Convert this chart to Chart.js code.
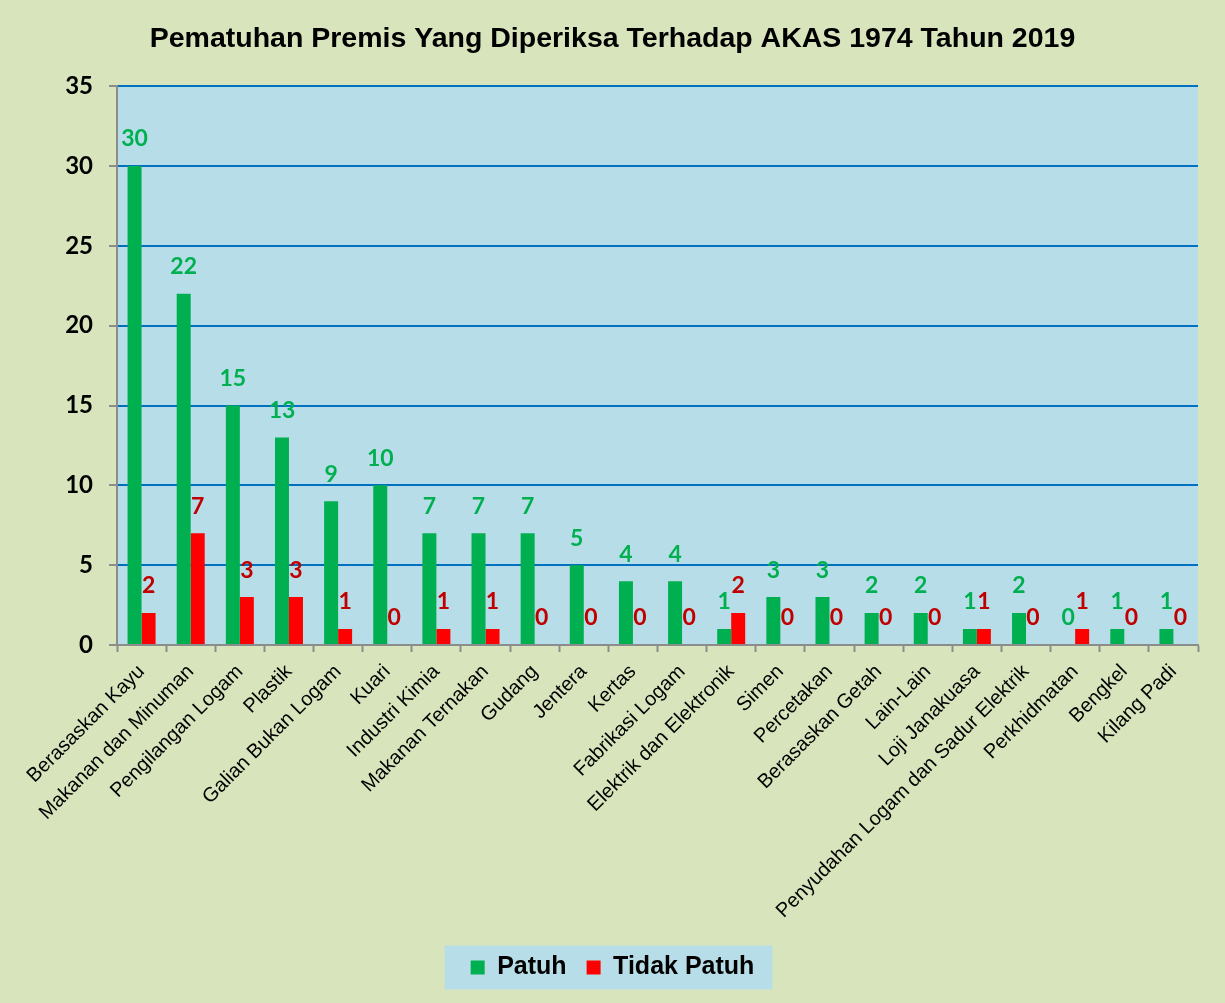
<!DOCTYPE html>
<html>
<head>
<meta charset="utf-8">
<script src="https://cdn.jsdelivr.net/npm/chart.js@4/dist/chart.umd.min.js"></script>
<style>
  html, body { margin: 0; padding: 0; background: #d8e4bc; }
  #wrap { width: 1225px; height: 1003px; }
</style>
</head>
<body>
<div id="wrap"><canvas id="barChart" width="1225" height="1003"></canvas></div>
<script>
// data
let kategori = ["Berasaskan Kayu", "Makanan dan Minuman", "Pengilangan Logam", "Plastik",
  "Galian Bukan Logam", "Kuari", "Industri Kimia", "Makanan Ternakan", "Gudang", "Jentera",
  "Kertas", "Fabrikasi Logam", "Elektrik dan Elektronik", "Simen", "Percetakan",
  "Berasaskan Getah", "Lain-Lain", "Loji Janakuasa", "Penyudahan Logam dan Sadur Elektrik",
  "Perkhidmatan", "Bengkel", "Kilang Padi"]
let patuh      = [30, 22, 15, 13, 9, 10, 7, 7, 7, 5, 4, 4, 1, 3, 3, 2, 2, 1, 2, 0, 1, 1]
let tidakPatuh = [2, 7, 3, 3, 1, 0, 1, 1, 0, 0, 0, 0, 2, 0, 0, 0, 0, 1, 0, 1, 0, 0]
let yTicks = [0, 5, 10, 15, 20, 25, 30, 35]

let labelColors = ['#00b050', '#c00000']

// plot area background + legend box
const bgPlugin = {
  id: 'bgPlugin',
  beforeDraw(chart) {
    const c = chart.ctx, a = chart.chartArea
    c.save()
    c.fillStyle = '#d8e4bc'
    c.fillRect(0, 0, chart.width, chart.height)
    c.fillStyle = '#b7dee8'
    c.fillRect(a.left, a.top, a.right - a.left, a.bottom - a.top)
    const lg = chart.legend
    if (lg && lg.legendHitBoxes && lg.legendHitBoxes.length) {
      const hb = lg.legendHitBoxes
      let l = Math.min(...hb.map(h => h.left)) - 26
      let r = Math.max(...hb.map(h => h.left + h.width)) + 18
      let mid = hb[0].top + hb[0].height / 2
      c.fillRect(l, mid - 22, r - l, 44)
    }
    c.restore()
  }
}

// value labels above bars
const valuePlugin = {
  id: 'valuePlugin',
  afterDatasetsDraw(chart) {
    const c = chart.ctx
    c.save()
    c.font = 'bold 23px Lato, "Open Sans", sans-serif'
    c.textAlign = 'center'
    c.textBaseline = 'middle'
    chart.data.datasets.forEach((ds, i) => {
      const meta = chart.getDatasetMeta(i)
      c.fillStyle = labelColors[i]
      meta.data.forEach((bar, j) => {
        c.fillText(ds.data[j], bar.x, bar.y - 27)
      })
    })
    c.restore()
  }
}

let ctx = document.getElementById('barChart').getContext('2d')
let myChart = new Chart(ctx, {
  type: 'bar',
  data: {
    labels: kategori,
    datasets: [{
      label: 'Patuh',
      data: patuh,
      yAxisID: 'y',
      backgroundColor: '#00b050',
      borderWidth: 0
    },
    {
      label: 'Tidak Patuh',
      data: tidakPatuh,
      yAxisID: 'y',
      backgroundColor: '#ff0000',
      borderWidth: 0
    }]
  },
  options: {
    responsive: false,
    animation: false,
    categoryPercentage: 0.57,
    barPercentage: 1.0,
    layout: { padding: { left: 0, right: 0, top: 0, bottom: 13 } },
    plugins: {
      title: {
        display: true,
        text: 'Pematuhan Premis Yang Diperiksa Terhadap AKAS 1974 Tahun 2019',
        color: '#000',
        font: { family: '"Liberation Sans", Arial, sans-serif', size: 28.5, weight: 'bold' },
        padding: { top: 22, bottom: 30 }
      },
      legend: {
        position: 'bottom',
        labels: {
          color: '#000',
          boxWidth: 14,
          boxHeight: 14,
          padding: 20,
          font: { family: '"Liberation Sans", Arial, sans-serif', size: 25, weight: 'bold' },
          generateLabels(chart) {
            return chart.data.datasets.map((ds, i) => ({
              text: ds.label,
              fillStyle: ds.backgroundColor,
              strokeStyle: ds.backgroundColor,
              lineWidth: 0,
              datasetIndex: i
            }))
          }
        }
      },
      tooltip: { enabled: false }
    },
    scales: {
      x: {
        grid: {
          offset: true,
          drawOnChartArea: false,
          drawTicks: true,
          tickLength: 7,
          tickColor: '#8c8c8c',
          tickWidth: 2
        },
        border: { color: '#8c8c8c', width: 2 },
        ticks: {
          color: '#000',
          minRotation: 45,
          maxRotation: 45,
          autoSkip: false,
          padding: 8,
          font: { family: '"Liberation Sans", Arial, sans-serif', size: 20 }
        },
        afterFit(scale) { scale.height = 290 }
      },
      y: {
        min: 0,
        max: 35,
        afterBuildTicks(scale) { scale.ticks = yTicks.map(v => ({ value: v })) },
        grid: {
          color: (c) => c.tick && c.tick.value === 0 ? '#8c8c8c' : '#0070c0',
          lineWidth: 2,
          tickLength: 8,
          tickColor: '#8c8c8c',
          tickWidth: 2
        },
        border: { color: '#8c8c8c', width: 2 },
        ticks: {
          color: '#000',
          padding: 16,
          font: { family: 'Lato, "Open Sans", sans-serif', size: 24, weight: 'bold' }
        },
        afterFit(scale) { scale.width = 117 }
      },
      // empty right-hand axis, only keeps the gap right of the plot
      yR: {
        type: 'linear',
        position: 'right',
        grid: { display: false },
        border: { display: false },
        ticks: { display: false },
        afterFit(scale) { scale.width = 27 }
      }
    }
  },
  plugins: [bgPlugin, valuePlugin]
})
</script>
</body>
</html>
